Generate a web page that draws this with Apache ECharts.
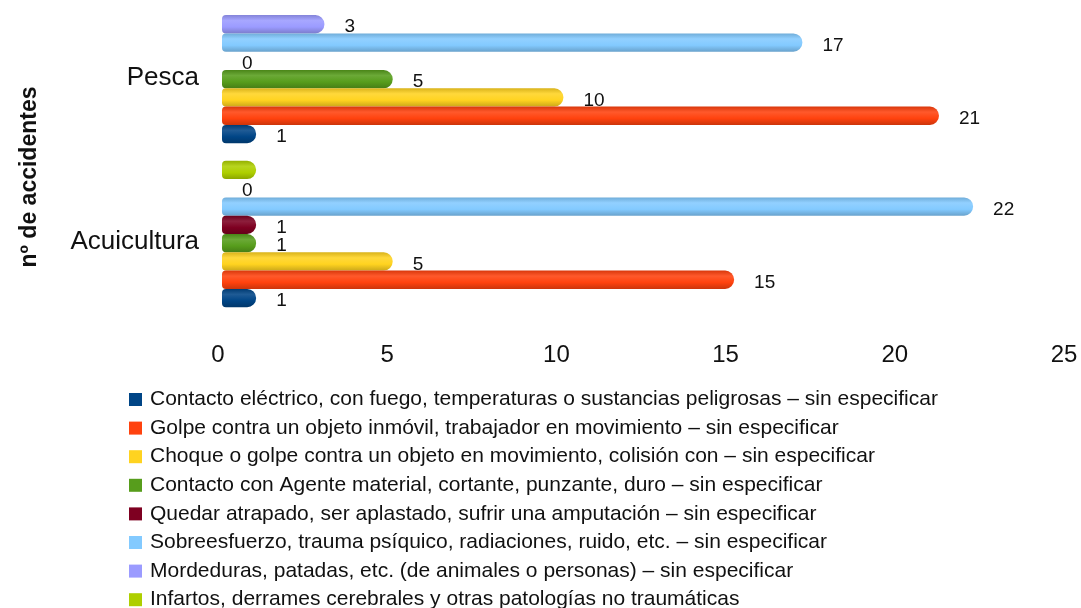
<!DOCTYPE html>
<html>
<head>
<meta charset="utf-8">
<title>Accidentes</title>
<script src="https://cdn.jsdelivr.net/npm/echarts@6/dist/echarts.min.js"></script>
<style>
  html, body { margin: 0; padding: 0; background: #fff; }
  #chart { width: 1081px; height: 608px; }
</style>
</head>
<body>
<div id="chart"></div>
<script>
// categorias (de abajo hacia arriba)
const categories = ['Acuicultura', 'Pesca'];
const seriesNames = [
  'Contacto eléctrico, con fuego, temperaturas o sustancias peligrosas – sin especificar',
  'Golpe contra un objeto inmóvil, trabajador en movimiento – sin especificar',
  'Choque o golpe contra un objeto en movimiento, colisión con – sin especificar',
  'Contacto con Agente material, cortante, punzante, duro – sin especificar',
  'Quedar atrapado, ser aplastado, sufrir una amputación – sin especificar',
  'Sobreesfuerzo, trauma psíquico, radiaciones, ruido, etc. – sin especificar',
  'Mordeduras, patadas, etc. (de animales o personas) – sin especificar',
  'Infartos, derrames cerebrales y otras patologías no traumáticas'
];
// valores [Acuicultura, Pesca]
const contactoElectrico = [1, 1];
const golpeInmovil = [15, 21];
const choqueGolpe = [5, 10];
const contactoAgente = [1, 5];
const quedarAtrapado = [1, 0];
const sobreesfuerzo = [22, 17];
const mordeduras = [0, 3];
const infartos = [1, null];
const xTicks = [0, 5, 10, 15, 20, 25];

const seriesValues = [contactoElectrico, golpeInmovil, choqueGolpe, contactoAgente,
  quedarAtrapado, sobreesfuerzo, mordeduras, infartos];
const colors = ['#004586', '#ff420e', '#ffd320', '#579d1c', '#7e0021', '#83caff', '#9b9bff', '#aecf00'];
// la serie de infartos no lleva etiqueta en el original
const showLabel = [true, true, true, true, true, true, true, false];

function mix(hex, target, t) {
  const n = parseInt(hex.slice(1), 16);
  const r = (n >> 16) & 255, g = (n >> 8) & 255, b = n & 255;
  const f = (c) => Math.round(c + (target - c) * t);
  return 'rgb(' + f(r) + ',' + f(g) + ',' + f(b) + ')';
}

const chart = echarts.init(document.getElementById('chart'));

// echarts pone la primera serie arriba: se invierte para que quede abajo
const series = seriesValues.map((vals, i) => ({
  name: seriesNames[i],
  type: 'bar',
  xAxisIndex: 1,
  data: vals,
  barWidth: 18.3,
  barGap: '0%',
  itemStyle: {
    color: {
      type: 'linear', x: 0, y: 0, x2: 0, y2: 1,
      colorStops: [
        { offset: 0, color: mix(colors[i], 0, 0.15) },
        { offset: 0.3, color: mix(colors[i], 255, 0.12) },
        { offset: 0.65, color: colors[i] },
        { offset: 1, color: mix(colors[i], 0, 0.2) }
      ]
    },
    borderRadius: [4, 9, 9, 4]
  },
  label: {
    show: showLabel[i],
    position: 'right',
    distance: 20,
    offset: [0, 3],
    color: '#111',
    fontSize: 19,
    fontFamily: 'Liberation Sans'
  }
})).reverse();

const option = {
  color: colors,
  animation: false,
  textStyle: { fontFamily: 'Liberation Sans' },
  grid: { left: 218, right: 17, top: -12, bottom: 292, containLabel: false, outerBoundsMode: 'none' },
  xAxis: [
    {
      type: 'value',
      min: xTicks[0],
      max: xTicks[xTicks.length - 1],
      interval: 5,
      axisLine: { show: false },
      axisTick: { show: false },
      splitLine: { show: false },
      axisLabel: { fontSize: 24, color: '#111', margin: 27 }
    },
    {
      // eje oculto para situar el extremo de los cilindros
      type: 'value',
      show: false,
      min: -0.117,
      max: 24.663,
      splitLine: { show: false }
    }
  ],
  yAxis: {
    type: 'category',
    data: categories,
    axisLine: { show: false },
    axisTick: { show: false },
    axisLabel: {
      margin: 19,
      formatter: '{c|{value}}',
      rich: { c: { fontSize: 26, color: '#111', padding: [16, 0, 0, 0] } }
    }
  },
  legend: {
    orient: 'vertical',
    left: 129,
    top: 389,
    height: 230,
    padding: 0,
    icon: 'rect',
    itemWidth: 13,
    itemHeight: 13,
    itemGap: 7.6,
    textStyle: { fontSize: 21, color: '#111', padding: [0, 0, 0, 3] },
    data: seriesNames.map((name, i) => ({ name: name, itemStyle: { color: colors[i] } }))
  },
  graphic: [{
    type: 'text',
    x: 30,
    y: 177,
    rotation: Math.PI / 2,
    style: {
      text: 'nº de accidentes',
      font: 'bold 23px "Liberation Sans"',
      fill: '#111',
      align: 'center',
      verticalAlign: 'middle'
    }
  }],
  series: series
};

chart.setOption(option);
</script>
</body>
</html>
